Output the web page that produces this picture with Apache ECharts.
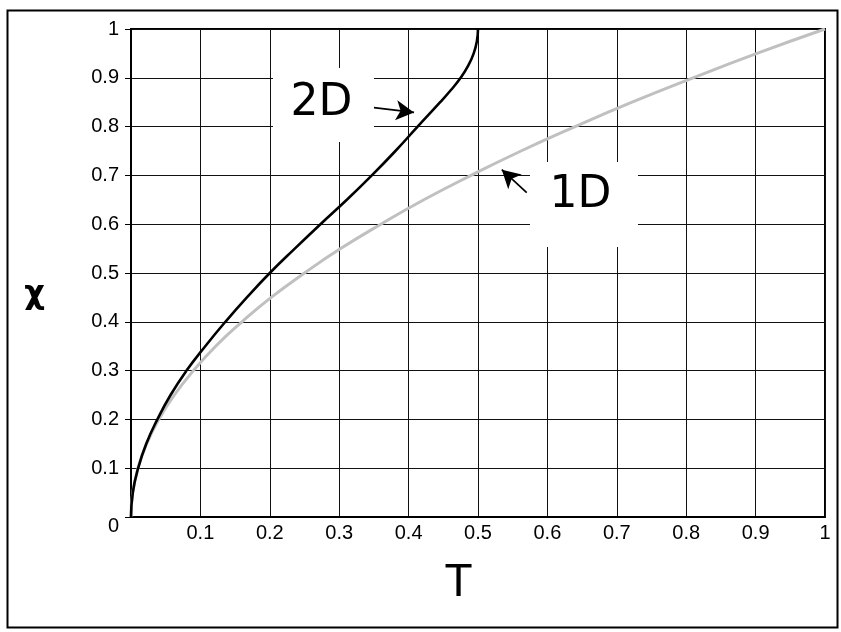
<!DOCTYPE html>
<html>
<head>
<meta charset="utf-8">
<script src="https://cdn.jsdelivr.net/npm/echarts@6/dist/echarts.min.js"></script>
<style>
  html, body { margin: 0; padding: 0; background: #fff; }
  #chart { width: 841px; height: 632px; }
</style>
</head>
<body>
<div id="chart"></div>
<script>
// ---- Data ----
// 1D curve (grey): T values and chi values
const oneD_T   = [0, 0.0025, 0.01, 0.0225, 0.04, 0.0625, 0.09, 0.122, 0.16, 0.202, 0.25, 0.302, 0.36, 0.422, 0.49, 0.562, 0.64, 0.722, 0.81, 0.902, 1.0];
const oneD_chi = [0, 0.05, 0.1, 0.15, 0.2, 0.25, 0.3, 0.35, 0.4, 0.45, 0.5, 0.55, 0.6, 0.65, 0.7, 0.75, 0.8, 0.85, 0.9, 0.95, 1.0];
// 2D curve (black)
const twoD_T   = [0, 0.0026, 0.0103, 0.022, 0.038, 0.057, 0.08, 0.107, 0.136, 0.167, 0.2, 0.236, 0.273, 0.311, 0.347, 0.381, 0.413, 0.4455, 0.461, 0.475, 0.4859, 0.4938, 0.4984, 0.5];
const twoD_chi = [0, 0.05, 0.1, 0.15, 0.2, 0.25, 0.3, 0.35, 0.4, 0.45, 0.5, 0.55, 0.6, 0.65, 0.7, 0.75, 0.8, 0.85, 0.875, 0.9, 0.925, 0.95, 0.975, 1.0];
// tick labels
const xTicks = ['0', '0.1', '0.2', '0.3', '0.4', '0.5', '0.6', '0.7', '0.8', '0.9', '1'];
const yTicks = ['0', '0.1', '0.2', '0.3', '0.4', '0.5', '0.6', '0.7', '0.8', '0.9', '1'];
// annotation labels and arrows (data coordinates)
const label2D = { text: '2D', at: [0.2774, 0.8443] };
const label1D = { text: '1D', at: [0.6527, 0.6404] };
const arrow2D = [[0.3468, 0.8395], [0.4078, 0.8291]];
const arrow1D = [[0.5702, 0.6645], [0.5343, 0.7117]];

const zip = (a, b) => a.map((v, i) => [v, b[i]]);

const chart = echarts.init(document.getElementById('chart'), null, { renderer: 'canvas' });
const tickFont = { fontFamily: 'Liberation Sans', fontSize: 20, color: '#000' };

const arrowLine = (pts) => ({
  silent: true,
  symbol: ['none', 'arrow'],
  symbolSize: [15, 18],
  label: { show: false },
  lineStyle: { color: '#000', width: 1.7, type: 'solid' },
  emphasis: { disabled: true },
  animation: false,
  data: [[{ coord: pts[0] }, { coord: pts[1] }]]
});
const boxLabel = (lab, size, offset) => ({
  silent: true,
  animation: false,
  data: [{
    coord: lab.at,
    symbol: 'rect',
    symbolSize: size,
    itemStyle: { color: '#fff' },
    label: {
      show: true, position: 'inside', formatter: lab.text, offset: offset,
      fontFamily: 'DejaVu Sans', fontSize: 44, color: '#000'
    }
  }]
});

chart.setOption({
  animation: false,
  backgroundColor: '#fff',
  grid: { left: 131, top: 29, width: 694, height: 488, show: true, borderColor: '#000', borderWidth: 2, backgroundColor: 'transparent' },
  xAxis: {
    type: 'value', min: 0, max: 1, interval: 0.1,
    name: 'T', nameLocation: 'middle', nameGap: 43,
    nameTextStyle: { fontFamily: 'Liberation Sans', fontSize: 46, color: '#000', padding: [0, 39, 0, 0] },
    axisLine: { show: true, lineStyle: { color: '#000', width: 2 } },
    axisTick: { show: false },
    axisLabel: Object.assign({ margin: 6, formatter: (v) => { const i = Math.round(v * 10); return i === 0 ? '' : xTicks[i]; } }, tickFont),
    splitLine: { show: true, lineStyle: { color: '#111', width: 1 } }
  },
  yAxis: {
    type: 'value', min: 0, max: 1, interval: 0.1,
    name: 'χ', nameLocation: 'middle', nameRotate: 0, nameGap: 86,
    nameTextStyle: { fontFamily: 'DejaVu Sans', fontWeight: 'bold', fontSize: 32, color: '#000', verticalAlign: 'top', padding: [6, 0, 0, 0] },
    axisLine: { show: true, lineStyle: { color: '#000', width: 2 } },
    axisTick: { show: true, length: 6, inside: false, lineStyle: { color: '#000', width: 1 } },
    axisLabel: Object.assign({
      margin: 12,
      formatter: (v) => { const i = Math.round(v * 10); return i === 0 ? '{z|' + yTicks[0] + '}' : yTicks[i]; },
      rich: { z: { fontFamily: 'Liberation Sans', fontSize: 20, color: '#000', padding: [19, 0, 0, 0] } }
    }, tickFont),
    splitLine: { show: true, lineStyle: { color: '#111', width: 1 } }
  },
  graphic: [{
    type: 'rect', silent: true, z: 100,
    shape: { x: 7.5, y: 10.5, width: 830, height: 617 },
    style: { fill: 'none', stroke: '#000', lineWidth: 2 }
  }],
  series: [
    {
      name: '1D', type: 'line', data: zip(oneD_T, oneD_chi),
      smooth: 0.5, showSymbol: false, symbol: 'none',
      lineStyle: { color: '#c0c0c0', width: 3 },
      markPoint: boxLabel(label1D, [108, 85], [-3.5, -8.5]),
      markLine: arrowLine(arrow1D),
      z: 2
    },
    {
      name: '2D', type: 'line', data: zip(twoD_T, twoD_chi),
      smooth: 0.5, showSymbol: false, symbol: 'none',
      lineStyle: { color: '#000', width: 2.6 },
      markPoint: boxLabel(label2D, [101, 74], [-2, -1]),
      markLine: arrowLine(arrow2D),
      z: 3
    }
  ]
});
</script>
</body>
</html>
